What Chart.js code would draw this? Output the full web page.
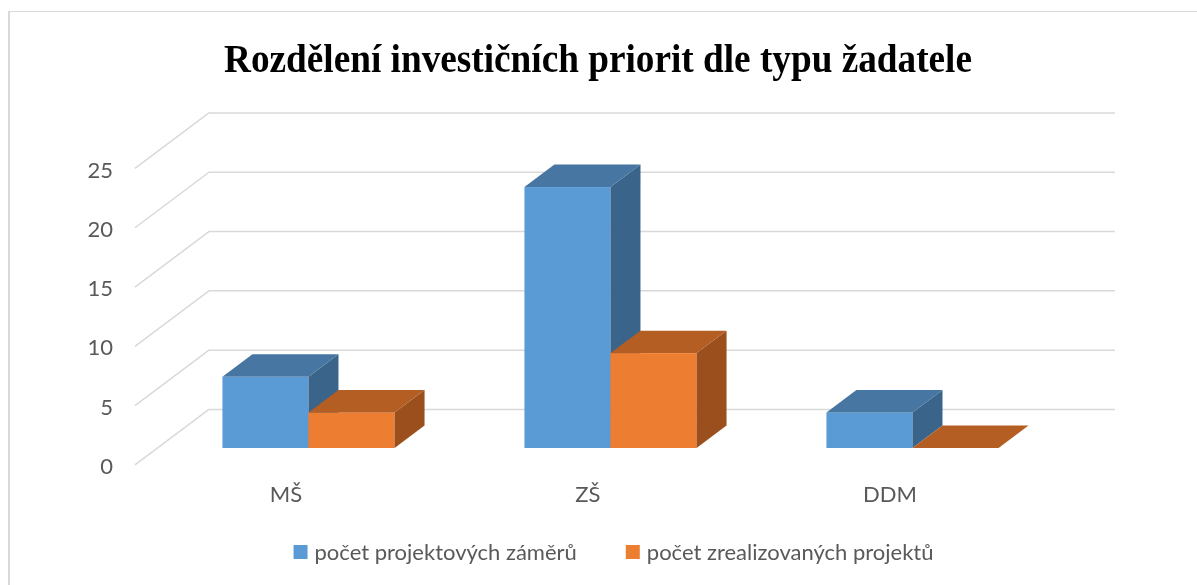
<!DOCTYPE html>
<html>
<head>
<meta charset="utf-8">
<script src="https://cdn.jsdelivr.net/npm/chart.js@4.4.1/dist/chart.umd.min.js"></script>
<style>
  html, body { margin: 0; padding: 0; background: #ffffff; overflow: hidden; }
  #wrap { position: relative; width: 1197px; height: 585px; }
  canvas { display: block; }
</style>
</head>
<body>
<div id="wrap"><canvas id="chart" width="1197" height="585"></canvas></div>
<script>
// Chart content
const chartTitle = 'Rozdělení investičních priorit dle typu žadatele';
const categories = ['MŠ', 'ZŠ', 'DDM'];
const seriesNames = ['počet projektových záměrů', 'počet zrealizovaných projektů'];
const plannedProjects = [6, 22, 3];
const realizedProjects = [3, 8, 0];
const yTickValues = [0, 5, 10, 15, 20, 25];

// Face colours of the 3D columns: front, top, side
const palette = [
  { front: '#5B9BD5', top: '#4676A1', side: '#3A6489' },
  { front: '#ED7D31', top: '#B45E23', side: '#9A4F1D' }
];

const TEXT_GRAY = '#595959';
const GRID_GRAY = '#D9D9D9';
const LABEL_FONT = '"Lato", "Open Sans", sans-serif';

// Oblique projection of the floor depth (front edge -> back wall)
const DEPTH_DX = 74;
const DEPTH_DY = -55.5;
const BAR_PLANE = 0.305;   // where the column fronts sit inside the floor depth
const BAR_DEPTH = 0.405;   // depth of a column as part of the floor depth

function polygon(ctx, pts, color) {
  ctx.beginPath();
  ctx.moveTo(pts[0][0], pts[0][1]);
  for (let i = 1; i < pts.length; i++) ctx.lineTo(pts[i][0], pts[i][1]);
  ctx.closePath();
  ctx.fillStyle = color;
  ctx.fill();
}

const bar3d = {
  id: 'bar3d',
  beforeDatasetsDraw(chart) {
    const ctx = chart.ctx;
    const area = chart.chartArea;
    const ys = chart.scales.y;
    const xs = chart.scales.x;

    const fx = -BAR_PLANE * DEPTH_DX, fy = -BAR_PLANE * DEPTH_DY;           // front edge
    const bx = (1 - BAR_PLANE) * DEPTH_DX, by = (1 - BAR_PLANE) * DEPTH_DY; // back wall
    const cdx = BAR_DEPTH * DEPTH_DX, cdy = BAR_DEPTH * DEPTH_DY;           // column depth

    ctx.save();
    // chart frame
    ctx.fillStyle = GRID_GRAY;
    ctx.fillRect(8, 11, 2, 600);
    ctx.fillRect(8, 11, 1300, 1);

    // side wall diagonals and back wall gridlines
    ctx.strokeStyle = GRID_GRAY;
    ctx.lineWidth = 1.5;
    ctx.lineJoin = 'round';
    yTickValues.forEach(v => {
      const y = ys.getPixelForValue(v);
      ctx.beginPath();
      ctx.moveTo(area.left + fx, y + fy);
      ctx.lineTo(area.left + bx, y + by);
      ctx.lineTo(area.right + bx, y + by);
      ctx.stroke();
    });

    // value labels along the front of the side wall
    ctx.fillStyle = TEXT_GRAY;
    ctx.font = '22px ' + LABEL_FONT;
    ctx.textAlign = 'right';
    ctx.textBaseline = 'middle';
    yTickValues.forEach(v => {
      const y = ys.getPixelForValue(v);
      ctx.fillText(String(v), area.left + fx - 22, y + fy + 2);
    });

    // category labels under the front floor edge
    ctx.textAlign = 'center';
    categories.forEach((c, i) => {
      ctx.fillText(c, xs.getPixelForValue(i) + fx, ys.getPixelForValue(0) + fy + 30);
    });

    // columns, category by category so nearer faces cover the ones behind
    const metas = chart.data.datasets.map((d, i) => chart.getDatasetMeta(i));
    categories.forEach((c, i) => {
      metas.forEach((meta, di) => {
        const el = meta.data[i];
        const p = el.getProps(['x', 'y', 'base', 'width'], true);
        const col = palette[di];
        const l = p.x - p.width / 2, r = p.x + p.width / 2;
        const top = Math.min(p.y, p.base), base = Math.max(p.y, p.base);
        if (base - top > 0) {
          ctx.fillStyle = col.front;
          ctx.fillRect(l, top, r - l, base - top);
          polygon(ctx, [[r, top], [r + cdx, top + cdy], [r + cdx, base + cdy], [r, base]], col.side);
        }
        polygon(ctx, [[l, top], [l + cdx, top + cdy], [r + cdx, top + cdy], [r, top]], col.top);
      });
    });

    // title
    ctx.fillStyle = '#000000';
    ctx.font = 'bold 39px "Liberation Serif", "Times New Roman", serif';
    ctx.textAlign = 'left';
    ctx.textBaseline = 'alphabetic';
    const tw = ctx.measureText(chartTitle).width;
    const sx = 748 / tw;
    ctx.save();
    ctx.translate(598 - 374, 72);
    ctx.scale(sx, 1);
    ctx.fillText(chartTitle, 0, 0);
    ctx.restore();

    // legend
    ctx.font = '22px ' + LABEL_FONT;
    ctx.textBaseline = 'middle';
    const box = 14, gap = 7, itemGap = 49;
    const widths = seriesNames.map(n => ctx.measureText(n).width);
    const total = widths.reduce((s, w) => s + box + gap + w, 0) + itemGap * (seriesNames.length - 1);
    let x = 613.5 - total / 2;
    const ly = 552;
    seriesNames.forEach((n, i) => {
      ctx.fillStyle = palette[i].front;
      ctx.fillRect(x, ly - box / 2, box, box);
      ctx.fillStyle = TEXT_GRAY;
      ctx.fillText(n, x + box + gap, ly + 1);
      x += box + gap + widths[i] + itemGap;
    });

    ctx.restore();
    return false;
  }
};

new Chart(document.getElementById('chart'), {
  type: 'bar',
  data: {
    labels: categories,
    datasets: [
      { label: seriesNames[0], data: plannedProjects, backgroundColor: palette[0].front },
      { label: seriesNames[1], data: realizedProjects, backgroundColor: palette[1].front }
    ]
  },
  options: {
    responsive: false,
    devicePixelRatio: 1,
    animation: false,
    events: [],
    layout: { padding: { left: 157.5, right: 133.5, top: 151.5, bottom: 137 } },
    datasets: { bar: { categoryPercentage: 0.57, barPercentage: 1.0 } },
    scales: {
      x: { type: 'category', display: false, offset: true },
      y: { display: false, min: 0, max: 25, ticks: { stepSize: 5 } }
    },
    plugins: {
      legend: { display: false },
      title: { display: false },
      tooltip: { enabled: false }
    }
  },
  plugins: [bar3d]
});
</script>
</body>
</html>
